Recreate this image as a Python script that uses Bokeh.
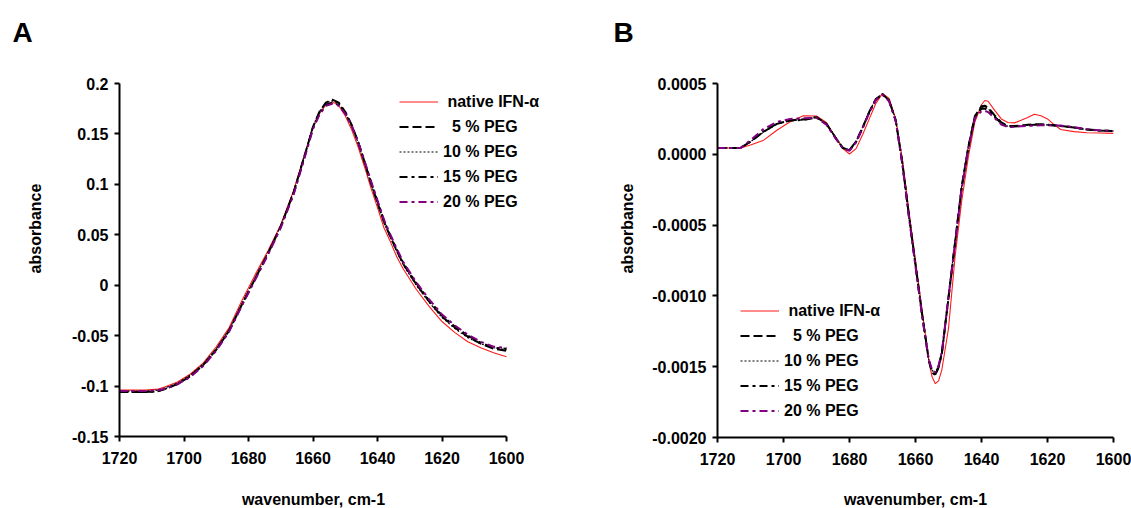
from bokeh.plotting import figure
from bokeh.models import Range1d, FixedTicker, Label, Legend, LegendItem, CustomJSTickFormatter
from bokeh.layouts import row, column
from bokeh.embed import file_html
from bokeh.resources import INLINE

# ---------------- data ----------------
series_names = ["native IFN-\u03b1", "5 % PEG", "10 % PEG", "15 % PEG", "20 % PEG"]
legend_labels = ["\u00a0native IFN-\u03b1", "\u00a0\u00a05 % PEG", "10 % PEG", "15 % PEG", "20 % PEG"]

x_ticks = [1720, 1700, 1680, 1660, 1640, 1620, 1600]

# Panel A: absorbance
wn_a = [1720, 1716, 1712, 1708, 1706, 1702, 1698, 1694, 1690, 1686, 1682, 1678, 1674,
        1670, 1666, 1662, 1660, 1658, 1656, 1654, 1652, 1650, 1648, 1646, 1644, 1642,
        1640, 1638, 1636, 1634, 1632, 1628, 1624, 1620, 1616, 1612, 1608, 1604, 1600]
native_a = [-0.104, -0.104, -0.104, -0.103, -0.101, -0.096, -0.088, -0.077, -0.061, -0.042,
            -0.015, 0.010, 0.034, 0.060, 0.094, 0.136, 0.157, 0.170, 0.179, 0.182, 0.178,
            0.168, 0.154, 0.137, 0.117, 0.096, 0.077, 0.057, 0.043, 0.028, 0.016, -0.004,
            -0.021, -0.036, -0.047, -0.056, -0.062, -0.067, -0.071]
peg5_a = [-0.106, -0.106, -0.106, -0.105, -0.103, -0.098, -0.090, -0.079, -0.064, -0.045,
          -0.019, 0.006, 0.031, 0.058, 0.092, 0.135, 0.157, 0.172, 0.181, 0.184, 0.181,
          0.172, 0.159, 0.142, 0.122, 0.101, 0.082, 0.063, 0.048, 0.034, 0.021, 0.001,
          -0.016, -0.031, -0.042, -0.051, -0.058, -0.063, -0.065]
peg10_a = [-0.105, -0.105, -0.105, -0.104, -0.102, -0.097, -0.089, -0.078, -0.063, -0.044,
           -0.018, 0.007, 0.032, 0.059, 0.093, 0.136, 0.158, 0.172, 0.181, 0.183, 0.180,
           0.171, 0.158, 0.141, 0.121, 0.100, 0.081, 0.062, 0.047, 0.033, 0.020, 0.000,
           -0.017, -0.032, -0.043, -0.052, -0.058, -0.062, -0.064]
peg15_a = [-0.106, -0.106, -0.106, -0.105, -0.103, -0.098, -0.090, -0.079, -0.064, -0.045,
           -0.019, 0.006, 0.031, 0.058, 0.091, 0.134, 0.156, 0.170, 0.179, 0.181, 0.179,
           0.171, 0.158, 0.142, 0.122, 0.102, 0.083, 0.064, 0.049, 0.035, 0.022, 0.002,
           -0.015, -0.030, -0.041, -0.050, -0.057, -0.062, -0.063]
peg20_a = [-0.105, -0.105, -0.105, -0.104, -0.103, -0.098, -0.091, -0.080, -0.065, -0.046,
           -0.020, 0.005, 0.030, 0.057, 0.090, 0.133, 0.155, 0.169, 0.178, 0.180, 0.178,
           0.170, 0.158, 0.142, 0.123, 0.103, 0.084, 0.065, 0.050, 0.036, 0.023, 0.003,
           -0.014, -0.029, -0.040, -0.049, -0.056, -0.061, -0.062]
y_ticks_a = [-0.15, -0.1, -0.05, 0.0, 0.05, 0.1, 0.15, 0.2]
y_labels_a = ["-0.15", "-0.1", "-0.05", "0", "0.05", "0.1", "0.15", "0.2"]

# Panel B: second derivative
wn_b = [1720, 1716, 1713, 1710, 1706, 1702, 1698, 1694, 1690, 1687, 1684, 1682, 1680,
        1678, 1676, 1674, 1672, 1670, 1668, 1666, 1664, 1662, 1660, 1658, 1656, 1655,
        1654, 1653, 1652, 1650, 1648, 1646, 1644, 1642, 1640, 1639, 1638, 1636, 1634,
        1632, 1630, 1628, 1626, 1624, 1622, 1620, 1618, 1616, 1612, 1608, 1604, 1600]
native_b = [0.000045, 0.000045, 0.000045, 0.000065, 0.000100, 0.000170, 0.000230, 0.000272,
            0.000270, 0.000225, 0.000110, 0.000040, 0.000002, 0.000040, 0.000140, 0.000250,
            0.000360, 0.000430, 0.000395, 0.000250, -0.000030, -0.000400, -0.000750,
            -0.001100, -0.001450, -0.001570, -0.001620, -0.001600, -0.001520, -0.001230,
            -0.000720, -0.000330, -0.000020, 0.000230, 0.000350, 0.000380, 0.000375,
            0.000310, 0.000250, 0.000225, 0.000222, 0.000240, 0.000260, 0.000283, 0.000272,
            0.000250, 0.000210, 0.000175, 0.000160, 0.000152, 0.000150, 0.000148]
peg5_b = [0.000045, 0.000045, 0.000045, 0.000090, 0.000160, 0.000215, 0.000240, 0.000245,
          0.000262, 0.000215, 0.000110, 0.000045, 0.000030, 0.000090, 0.000190, 0.000300,
          0.000390, 0.000425, 0.000380, 0.000240, -0.000060, -0.000430, -0.000780,
          -0.001130, -0.001450, -0.001530, -0.001555, -0.001500, -0.001400, -0.001010,
          -0.000620, -0.000230, 0.000050, 0.000270, 0.000340, 0.000343, 0.000330,
          0.000275, 0.000225, 0.000200, 0.000200, 0.000203, 0.000208, 0.000212, 0.000212,
          0.000210, 0.000205, 0.000200, 0.000190, 0.000175, 0.000168, 0.000165]
peg10_b = [0.000045, 0.000045, 0.000045, 0.000088, 0.000158, 0.000213, 0.000242, 0.000250,
           0.000263, 0.000218, 0.000112, 0.000047, 0.000032, 0.000092, 0.000192, 0.000302,
           0.000392, 0.000428, 0.000383, 0.000243, -0.000055, -0.000425, -0.000775,
           -0.001125, -0.001445, -0.001525, -0.001545, -0.001495, -0.001395, -0.001005,
           -0.000615, -0.000225, 0.000055, 0.000272, 0.000332, 0.000333, 0.000322,
           0.000270, 0.000222, 0.000198, 0.000198, 0.000202, 0.000206, 0.000210, 0.000210,
           0.000208, 0.000204, 0.000200, 0.000188, 0.000174, 0.000167, 0.000164]
peg15_b = [0.000045, 0.000045, 0.000045, 0.000092, 0.000162, 0.000217, 0.000238, 0.000243,
           0.000260, 0.000213, 0.000108, 0.000043, 0.000028, 0.000088, 0.000188, 0.000298,
           0.000388, 0.000422, 0.000378, 0.000238, -0.000062, -0.000435, -0.000785,
           -0.001135, -0.001455, -0.001540, -0.001560, -0.001505, -0.001405, -0.001015,
           -0.000625, -0.000235, 0.000045, 0.000265, 0.000322, 0.000323, 0.000312,
           0.000265, 0.000218, 0.000195, 0.000196, 0.000200, 0.000205, 0.000208, 0.000209,
           0.000207, 0.000203, 0.000199, 0.000189, 0.000175, 0.000167, 0.000165]
peg20_b = [0.000045, 0.000045, 0.000045, 0.000100, 0.000180, 0.000228, 0.000250, 0.000255,
           0.000258, 0.000210, 0.000105, 0.000040, 0.000025, 0.000085, 0.000185, 0.000295,
           0.000385, 0.000420, 0.000375, 0.000235, -0.000065, -0.000440, -0.000790,
           -0.001140, -0.001450, -0.001520, -0.001540, -0.001490, -0.001395, -0.001010,
           -0.000630, -0.000240, 0.000040, 0.000255, 0.000305, 0.000307, 0.000298,
           0.000255, 0.000210, 0.000192, 0.000195, 0.000198, 0.000200, 0.000203, 0.000205,
           0.000205, 0.000204, 0.000203, 0.000192, 0.000178, 0.000168, 0.000165]
y_ticks_b = [-0.002, -0.0015, -0.001, -0.0005, 0.0, 0.0005]
y_labels_b = ["-0.0020", "-0.0015", "-0.0010", "-0.0005", "0.0000", "0.0005"]

# ---------------- styling ----------------
FONT = "Liberation Sans"
H_TOP = 475      # height of the row holding the plots
H_BOT = 33       # strip holding the x-axis title
styles = [
    dict(line_color="#ff1a1a", line_width=1.1, line_dash="solid"),
    dict(line_color="black", line_width=2, line_dash="9 4"),
    dict(line_color="black", line_width=1.2, line_dash="2 2"),
    dict(line_color="black", line_width=2, line_dash="8 4 3 4"),
    dict(line_color="#800080", line_width=2, line_dash="8 4 3 4"),
]

TICK_JS = """
let best = 0; let d = Infinity;
for (let i = 0; i < tvals.length; i++) {
  const e = Math.abs(tvals[i] - tick);
  if (e < d) { d = e; best = i; }
}
return tlabels[best];
"""


def strip(width, height):
    s = figure(width=width, height=height, output_backend="svg", toolbar_location=None,
               x_range=Range1d(0, width), y_range=Range1d(0, height),
               x_axis_type=None, y_axis_type=None, frame_align=False,
               min_border_left=0, min_border_right=0, min_border_top=0, min_border_bottom=0)
    s.outline_line_color = None
    s.background_fill_color = "white"
    s.border_fill_color = "white"
    s.xgrid.visible = False
    s.ygrid.visible = False
    return s


def text_label(x, y, text, size, angle=0, align="left", baseline="middle"):
    return Label(x=x, y=y, text=text, angle=angle, angle_units="deg", text_font=FONT,
                 text_font_style="bold", text_font_size=size, text_color="black",
                 text_align=align, text_baseline=baseline)


def main_panel(width, left, right, bottom, x_end, wn, series, y_lo, y_hi, yt, yl,
               legend_loc):
    p = figure(width=width, height=H_TOP, output_backend="svg", toolbar_location=None,
               x_range=Range1d(1720, x_end), y_range=Range1d(y_lo, y_hi),
               frame_align=False,
               min_border_left=left, min_border_right=right,
               min_border_top=83, min_border_bottom=bottom)
    p.outline_line_color = None
    p.xgrid.visible = False
    p.ygrid.visible = False
    p.background_fill_color = "white"
    p.border_fill_color = "white"

    renderers = [p.line(wn, ys, **st) for ys, st in zip(series, styles)]

    for ax in (p.xaxis[0], p.yaxis[0]):
        ax.axis_line_width = 2
        ax.axis_line_color = "black"
        ax.major_tick_line_width = 2
        ax.major_tick_line_color = "black"
        ax.minor_tick_line_color = None
        ax.major_tick_out = 5
        ax.major_tick_in = 0
        ax.major_label_text_font = FONT
        ax.major_label_text_font_style = "bold"
        ax.major_label_text_font_size = "16px"
        ax.major_label_text_color = "black"
    p.xaxis[0].ticker = FixedTicker(ticks=x_ticks)
    p.xaxis[0].bounds = (1600, 1720)
    p.xaxis[0].major_label_standoff = 10
    p.yaxis[0].ticker = FixedTicker(ticks=yt)
    p.yaxis[0].formatter = CustomJSTickFormatter(args=dict(tvals=yt, tlabels=yl), code=TICK_JS)
    p.yaxis[0].major_label_standoff = 6

    items = [LegendItem(label=lab, renderers=[r]) for lab, r in zip(legend_labels, renderers)]
    leg = Legend(items=items, location=legend_loc, glyph_width=39, glyph_height=25,
                 label_height=25, spacing=0, padding=0, margin=0, label_standoff=5,
                 border_line_color=None, background_fill_alpha=0,
                 label_text_font=FONT, label_text_font_style="bold",
                 label_text_font_size="16px", label_text_color="black")
    p.add_layout(leg)
    return p


# ---- panel A (560 px wide) ----
leftA = strip(62, H_TOP)
leftA.add_layout(text_label(12, H_TOP - 32, "A", "28px"))
leftA.add_layout(text_label(35, H_TOP - 228, "absorbance", "16px", angle=90,
                            align="center"))
mainA = main_panel(498, 57, 10, 39, 1586.36, wn_a,
                   [native_a, peg5_a, peg10_a, peg15_a, peg20_a], -0.15, 0.2,
                   y_ticks_a, y_labels_a, (280, 222))
botA = strip(560, H_BOT)
botA.add_layout(text_label(313, 9, "wavenumber, cm-1", "16px", align="center"))
panelA = column(row(leftA, mainA), botA)

# ---- panel B (571 px wide) ----
leftB = strip(78, H_TOP)
leftB.add_layout(text_label(53, H_TOP - 32, "B", "28px"))
leftB.add_layout(text_label(66.5, H_TOP - 228, "absorbance", "16px", angle=90,
                            align="center"))
mainB = main_panel(493, 79, 18, 38, 1600, wn_b,
                   [native_b, peg5_b, peg10_b, peg15_b, peg20_b], -0.002, 0.0005,
                   y_ticks_b, y_labels_b, (23, 14))
botB = strip(571, H_BOT)
botB.add_layout(text_label(355, 9, "wavenumber, cm-1", "16px", align="center"))
panelB = column(row(leftB, mainB), botB)

layout = row(panelA, panelB)
open("out.html", "w").write(file_html(layout, INLINE))
